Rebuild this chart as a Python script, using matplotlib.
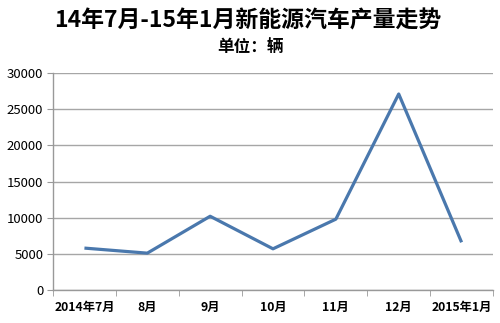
import matplotlib
matplotlib.use("Agg")
import matplotlib.pyplot as plt

plt.rcParams['font.family'] = ['Noto Sans CJK SC', 'DejaVu Sans']

months = ['2014年7月', '8月', '9月', '10月', '11月', '12月', '2015年1月']
output = [5800, 5100, 10200, 5700, 9800, 27100, 6600]
yticks = [0, 5000, 10000, 15000, 20000, 25000, 30000]

fig = plt.figure(figsize=(5, 3.23), dpi=100)
ax = fig.add_axes([0.106, 0.102, 0.88, 0.672])

x = range(len(months))
ax.plot(x, output, color='#4a78ad', linewidth=2.3, solid_capstyle='butt')

ax.set_xlim(-0.5, len(months) - 0.5)
ax.set_ylim(0, 30000)
ax.set_yticks(yticks)
ax.set_yticklabels([str(v) for v in yticks], fontsize=9.5)
ax.set_xticks(x)
ax.set_xticklabels(months, fontsize=8.8, fontweight='bold')
ax.set_xticks([i - 0.5 for i in range(len(months) + 1)], minor=True)
ax.tick_params(axis='x', which='major', length=0, pad=8)
ax.tick_params(axis='x', which='minor', length=4, color='#999999')
ax.tick_params(axis='y', length=4, color='#999999', pad=3)

ax.grid(axis='y', color='#a6a6a6', linewidth=1)
ax.set_axisbelow(True)
for s in ['top', 'right']:
    ax.spines[s].set_visible(False)
for s in ['left', 'bottom']:
    ax.spines[s].set_color('#999999')
    ax.spines[s].set_linewidth(1)

fig.text(0.496, 0.935, '14年7月-15年1月新能源汽车产量走势', ha='center', va='center',
         fontsize=16.5, fontweight='bold')
fig.text(0.5, 0.855, '单位：辆', ha='center', va='center', fontsize=12, fontweight='bold')

fig.savefig('out.png', dpi=100)
